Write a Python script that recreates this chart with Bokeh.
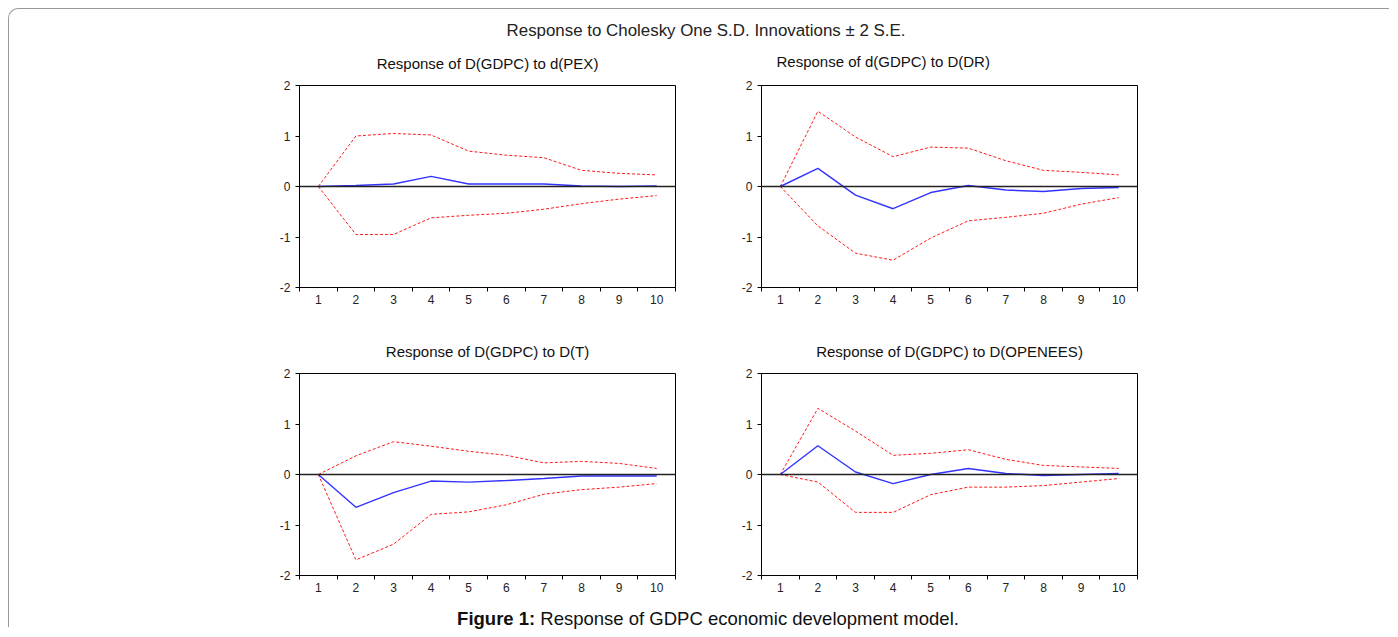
from bokeh.plotting import figure
from bokeh.layouts import column, row
from bokeh.models import Div, Spacer, FixedTicker, Range1d, Span
from bokeh.embed import file_html
from bokeh.resources import INLINE

# ---------------- data ----------------
periods = [1, 2, 3, 4, 5, 6, 7, 8, 9, 10]
x_labels = {p: str(p) for p in periods}
y_ticks = [-2, -1, 0, 1, 2]
y_labels = {-2: "-2", -1: "-1", 0: "0", 1: "1", 2: "2"}

main_title = "Response to Cholesky One S.D. Innovations \u00b1 2 S.E."
caption_bold = "Figure 1:"
caption_text = " Response of GDPC economic development model."

pex_title = "Response of D(GDPC) to d(PEX)"
pex_resp = [0.0, 0.02, 0.05, 0.20, 0.05, 0.05, 0.05, 0.01, 0.0, 0.01]
pex_upper = [0.0, 1.00, 1.05, 1.02, 0.70, 0.62, 0.57, 0.32, 0.26, 0.23]
pex_lower = [0.0, -0.95, -0.95, -0.62, -0.57, -0.53, -0.45, -0.34, -0.25, -0.18]

dr_title = "Response of d(GDPC) to D(DR)"
dr_resp = [0.0, 0.36, -0.17, -0.44, -0.12, 0.02, -0.07, -0.10, -0.04, -0.02]
dr_upper = [0.0, 1.49, 0.98, 0.59, 0.78, 0.76, 0.51, 0.32, 0.28, 0.23]
dr_lower = [0.0, -0.78, -1.32, -1.46, -1.02, -0.68, -0.61, -0.53, -0.35, -0.22]

t_title = "Response of D(GDPC) to D(T)"
t_resp = [0.0, -0.65, -0.36, -0.13, -0.15, -0.12, -0.08, -0.03, -0.03, -0.03]
t_upper = [0.0, 0.37, 0.65, 0.56, 0.46, 0.38, 0.23, 0.26, 0.22, 0.12]
t_lower = [0.0, -1.69, -1.38, -0.79, -0.74, -0.60, -0.39, -0.30, -0.25, -0.18]

open_title = "Response of D(GDPC) to D(OPENEES)"
open_resp = [0.0, 0.57, 0.05, -0.18, 0.0, 0.12, 0.02, -0.02, 0.0, 0.02]
open_upper = [0.0, 1.31, 0.86, 0.38, 0.42, 0.49, 0.30, 0.18, 0.15, 0.12]
open_lower = [0.0, -0.15, -0.75, -0.75, -0.40, -0.25, -0.25, -0.22, -0.15, -0.08]

FONT = "Liberation Sans"


def make_panel(title, resp, upper, lower, height, top, bottom,
               align="center", offset=0, standoff=28):
    p = figure(width=420, height=height, output_backend="svg",
               toolbar_location=None, tools="",
               x_range=Range1d(0.5, 10.5), y_range=Range1d(-2, 2),
               min_border_left=34, min_border_right=10,
               min_border_top=top, min_border_bottom=bottom)
    p.title.text = title
    p.title.text_font = FONT
    p.title.text_font_size = "15px"
    p.title.text_font_style = "normal"
    p.title.text_color = "#111111"
    p.title.align = align
    p.title.offset = offset
    p.title.standoff = standoff
    p.background_fill_color = "white"
    p.border_fill_color = None
    p.outline_line_color = "black"
    p.outline_line_width = 1
    p.grid.visible = False

    xa = p.xaxis[0]
    xa.ticker = FixedTicker(ticks=periods,
                            minor_ticks=[v - 0.5 for v in periods] + [10.5])
    xa.major_label_overrides = x_labels
    xa.major_tick_out = 0
    xa.major_tick_in = 0
    xa.minor_tick_out = 4
    xa.minor_tick_in = 0
    xa.minor_tick_line_color = "black"
    xa.axis_line_color = "black"
    xa.major_label_text_font = FONT
    xa.major_label_text_font_size = "12px"
    xa.major_label_text_color = "#222222"
    xa.major_label_standoff = 3

    ya = p.yaxis[0]
    ya.ticker = FixedTicker(ticks=y_ticks, minor_ticks=[])
    ya.major_label_overrides = y_labels
    ya.major_tick_out = 4
    ya.major_tick_in = 0
    ya.minor_tick_out = 0
    ya.axis_line_color = "black"
    ya.major_tick_line_color = "black"
    ya.major_label_text_font = FONT
    ya.major_label_text_font_size = "12px"
    ya.major_label_text_color = "#222222"
    ya.major_label_standoff = 5

    p.add_layout(Span(location=0, dimension="width",
                      line_color="#222222", line_width=1.6))
    p.line(periods, upper, line_color="#ff1a1a", line_width=1,
           line_dash="3 2")
    p.line(periods, lower, line_color="#ff1a1a", line_width=1,
           line_dash="3 2")
    p.line(periods, resp, line_color="#3333ff", line_width=1.4)
    return p


TOP = 50
TOP2 = 53
h1 = TOP + 202 + 30
h1b = TOP2 + 202 + 30
h2 = TOP + 202 + 25
p1 = make_panel(pex_title, pex_resp, pex_upper, pex_lower, h1, TOP, 30)
p2 = make_panel(dr_title, dr_resp, dr_upper, dr_lower, h1b, TOP2, 30,
                align="left", offset=15, standoff=31)
p3 = make_panel(t_title, t_resp, t_upper, t_lower, h2, TOP, 25)
p4 = make_panel(open_title, open_resp, open_upper, open_lower, h2, TOP, 25)

title_div = Div(
    text=("<div style=\"width:800px;text-align:center;padding-top:10px;"
          "font-family:'Liberation Sans';font-size:16.9px;color:#222;"
          "white-space:nowrap;overflow:visible\">" + main_title + "</div>"),
    width=800, height=23, margin=0, styles={"overflow": "visible",
                                            "z-index": "5"})

caption_div = Div(
    text=("<div style=\"width:800px;text-align:center;padding-top:6px;"
          "font-family:'Liberation Sans';font-size:18.5px;color:#111;"
          "white-space:nowrap\"><b>" + caption_bold + "</b>"
          + caption_text + "</div>"),
    width=800, height=27, margin=0)

layout = column(
    row(Spacer(width=297, height=23), title_div),
    row(Spacer(width=256, height=h1b),
        column(Spacer(width=420, height=h1b - h1), p1),
        Spacer(width=42, height=h1b), p2),
    Spacer(width=10, height=6),
    row(Spacer(width=256, height=h2), p3, Spacer(width=42, height=h2), p4),
    row(Spacer(width=299, height=27), caption_div),
    width=1381,
    margin=(8, 0, 0, 8),
    styles={"border-top": "1px solid #999999",
            "border-left": "1px solid #999999",
            "border-top-left-radius": "10px"},
)

open("out.html", "w").write(file_html(layout, INLINE))
